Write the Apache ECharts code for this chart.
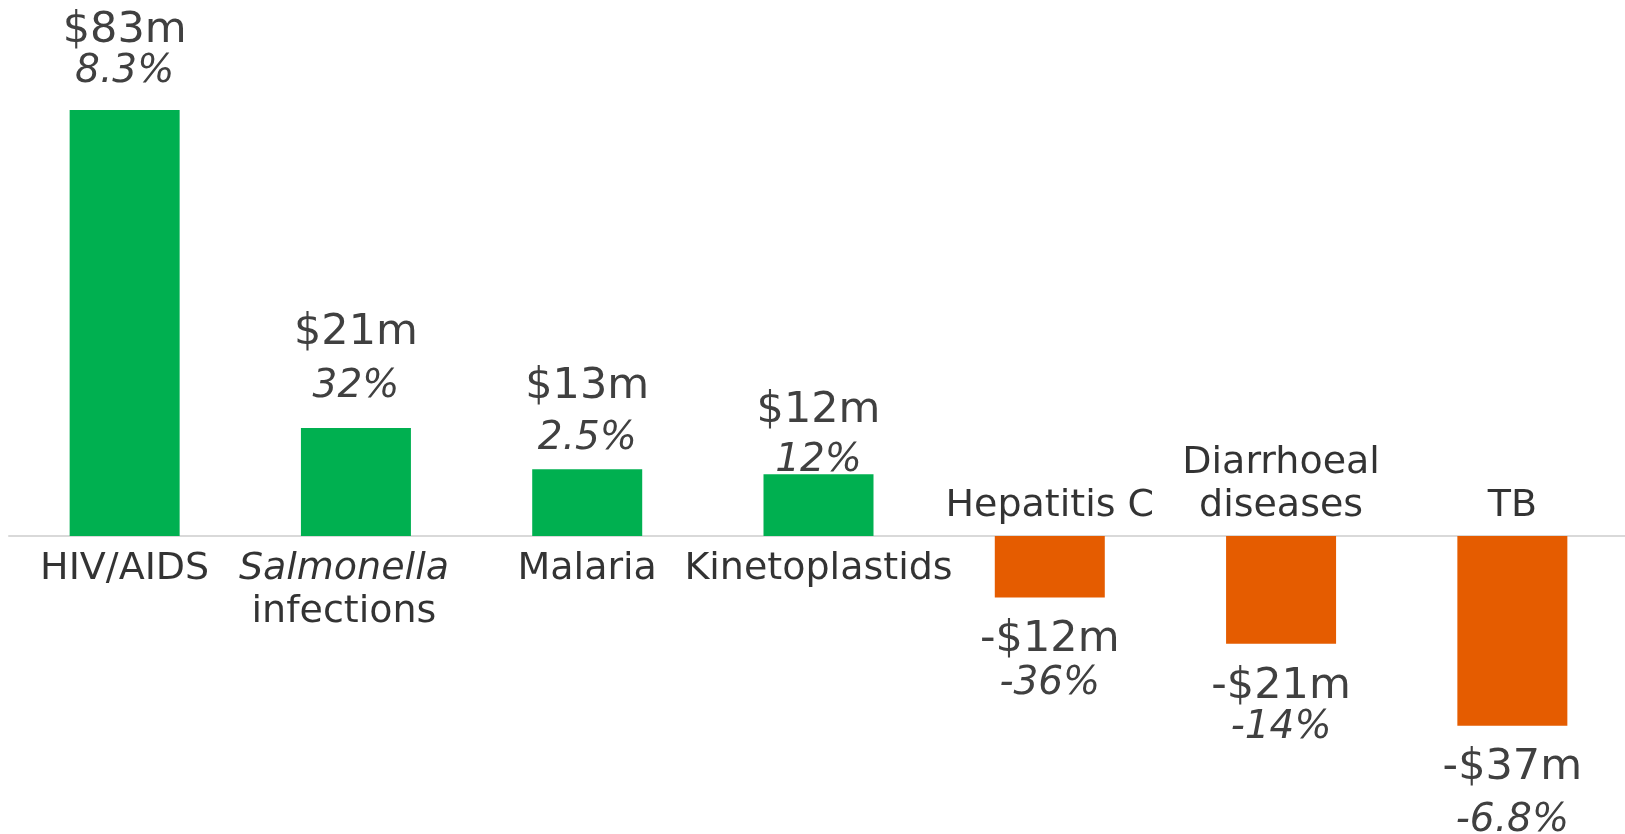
<!DOCTYPE html>
<html>
<head>
<meta charset="utf-8">
<script src="https://cdn.jsdelivr.net/npm/echarts@6/dist/echarts.min.js"></script>
<style>
  html, body { margin: 0; padding: 0; background: #ffffff; }
  #chart { width: 1625px; height: 834px; }
</style>
</head>
<body>
<div id="chart"></div>
<script>
// ---- data ----
const categories = ['HIV/AIDS', 'Salmonella\ninfections', 'Malaria', 'Kinetoplastids', 'Hepatitis C', 'Diarrhoeal\ndiseases', 'TB'];
const changeUSDm = [83, 21, 13, 12, -12, -21, -37];
const changeText = ['$83m', '$21m', '$13m', '$12m', '-$12m', '-$21m', '-$37m'];
const pctText = ['8.3%', '32%', '2.5%', '12%', '-36%', '-14%', '-6.8%'];
const italicWords = ['Salmonella'];

// ---- layout (label baseline distance from the bar end, px) ----
const valueGap = [66, 82, 69, 51, 55, 56, 55];
const pctGap = [26, 30, 19, 2, 98, 96, 107];
const catOffsetX = [0, -12, 0, 0, 0, 0, 0];

const GREEN = '#00B050', ORANGE = '#E55C00', GREY = '#404040';
const FONT = '"DejaVu Sans", Verdana, sans-serif';
const VF = 43, PF = 39, CF = 38;
const K = 0.3;

function dist(gap, fs, positive) {
  const L = Math.round(fs * 1.2);
  return positive ? gap - L / 2 + K * fs : gap - L / 2 - K * fs;
}

const chart = echarts.init(document.getElementById('chart'), null, { renderer: 'canvas' });

const barData = changeUSDm.map((v, i) => ({
  value: v,
  itemStyle: { color: v >= 0 ? GREEN : ORANGE },
  label: {
    show: true,
    position: v >= 0 ? 'top' : 'bottom',
    distance: dist(valueGap[i], VF, v >= 0),
    formatter: changeText[i],
    fontFamily: FONT, fontSize: VF, lineHeight: Math.round(VF * 1.2), color: GREY
  }
}));

const pctData = changeUSDm.map((v, i) => ({
  value: v,
  itemStyle: { color: 'rgba(0,0,0,0)' },
  label: {
    show: true,
    position: v >= 0 ? 'top' : 'bottom',
    distance: dist(pctGap[i], PF, v >= 0),
    formatter: pctText[i],
    fontFamily: FONT, fontSize: PF, fontStyle: 'italic', lineHeight: Math.round(PF * 1.2), color: GREY
  }
}));

function catLabel(name) {
  return name.split('\n').map(line =>
    italicWords.indexOf(line) >= 0 ? '{it|' + line + '}' : '{n|' + line + '}'
  ).join('\n');
}

const catData = categories.map((c, i) => {
  const pos = changeUSDm[i] >= 0;
  return {
    value: [i, 0],
    label: {
      show: true,
      position: pos ? 'bottom' : 'top',
      distance: pos ? 45 - 21.5 - K * CF : 18 - 21.5 + K * CF,
      offset: [catOffsetX[i], 0],
      formatter: catLabel(c),
      align: 'center',
      rich: {
        n: { fontFamily: FONT, fontSize: CF, lineHeight: 43, color: '#000000' },
        it: { fontFamily: FONT, fontSize: CF, lineHeight: 43, color: '#000000', fontStyle: 'italic' }
      }
    }
  };
});

chart.setOption({
  animation: false,
  backgroundColor: '#ffffff',
  grid: { left: 9, top: 74, width: 1619, height: 718.5, containLabel: false, outerBoundsMode: 'none' },
  xAxis: {
    type: 'category',
    data: categories,
    axisLine: { show: true, onZero: true, lineStyle: { color: '#d9d9d9', width: 2 } },
    axisTick: { show: false },
    axisLabel: { show: false },
    splitLine: { show: false }
  },
  yAxis: {
    type: 'value',
    min: -50, max: 90,
    show: false,
    splitLine: { show: false }
  },
  series: [
    { type: 'bar', data: barData, barWidth: 110, barGap: '-100%', z: 2 },
    { type: 'bar', data: pctData, barWidth: 110, barGap: '-100%', silent: true, z: 3 },
    {
      type: 'scatter', data: catData, symbolSize: 0.1,
      itemStyle: { color: 'rgba(0,0,0,0)' }, silent: true, z: 4
    }
  ]
});
</script>
</body>
</html>
